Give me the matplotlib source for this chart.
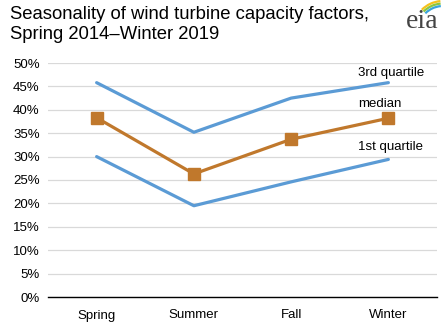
import numpy as np
import matplotlib.pyplot as plt
from matplotlib.patches import Arc

plt.rcParams['font.family'] = ['Liberation Sans', 'DejaVu Sans']

seasons = ['Spring', 'Summer', 'Fall', 'Winter']
q3 = [45.8, 35.2, 42.5, 45.8]
median = [38.3, 26.3, 33.7, 38.2]
q1 = [30.0, 19.5, 24.6, 29.4]

blue = '#5b9bd5'
orange = '#c0782c'

fig = plt.figure(figsize=(4.47, 3.28), dpi=100)
ax = fig.add_axes([48 / 447, 31 / 328, 389 / 447, 234 / 328])

x = np.arange(len(seasons))
ax.plot(x, q3, color=blue, lw=2.3, solid_capstyle='round')
ax.plot(x, q1, color=blue, lw=2.3, solid_capstyle='round')
ax.plot(x, median, color=orange, lw=2.3, marker='s', markersize=9)

ax.text(2.69, 47.2, '3rd quartile', fontsize=9.5)
ax.text(2.69, 40.6, 'median', fontsize=9.5)
ax.text(2.69, 31.4, '1st quartile', fontsize=9.5)

ax.set_xlim(-0.5, 3.5)
ax.set_ylim(0, 50)
ax.set_xticks(x)
ax.set_xticklabels(seasons, fontsize=9.5)
ax.set_yticks(np.arange(0, 51, 5))
ax.set_yticklabels([f'{v}%' for v in range(0, 51, 5)], fontsize=9.5)
ax.tick_params(length=0, pad=6)
ax.tick_params(axis='x', pad=9)
ax.grid(axis='y', color='#d9d9d9', lw=0.9)
ax.set_axisbelow(True)
for s in ['top', 'right', 'left']:
    ax.spines[s].set_visible(False)
ax.spines['bottom'].set_color('black')
ax.spines['bottom'].set_linewidth(1.0)

fig.text(10 / 447, 1 - 6 / 328, 'Seasonality of wind turbine capacity factors,\nSpring 2014\u2013Winter 2019',
         fontsize=13.3, va='top', ha='left', linespacing=1.2)

# eia logo
fig.text(422 / 447, 1 - 28 / 328, 'eia', fontsize=20, family='Liberation Serif',
         color='#444444', ha='center', va='baseline')
lax = fig.add_axes([405 / 447, 1 - 17 / 328, 40 / 447, 17 / 328])
lax.set_xlim(0, 40)
lax.set_ylim(0, 17)
lax.axis('off')
for r, c in [(30, '#f6c21b'), (27.5, '#8cc63f'), (25, '#3aa4dc')]:
    lax.add_patch(Arc((38, -14), 2 * r, 2 * r, theta1=95, theta2=135, color=c, lw=1.6))

fig.savefig('out.png', dpi=100)
